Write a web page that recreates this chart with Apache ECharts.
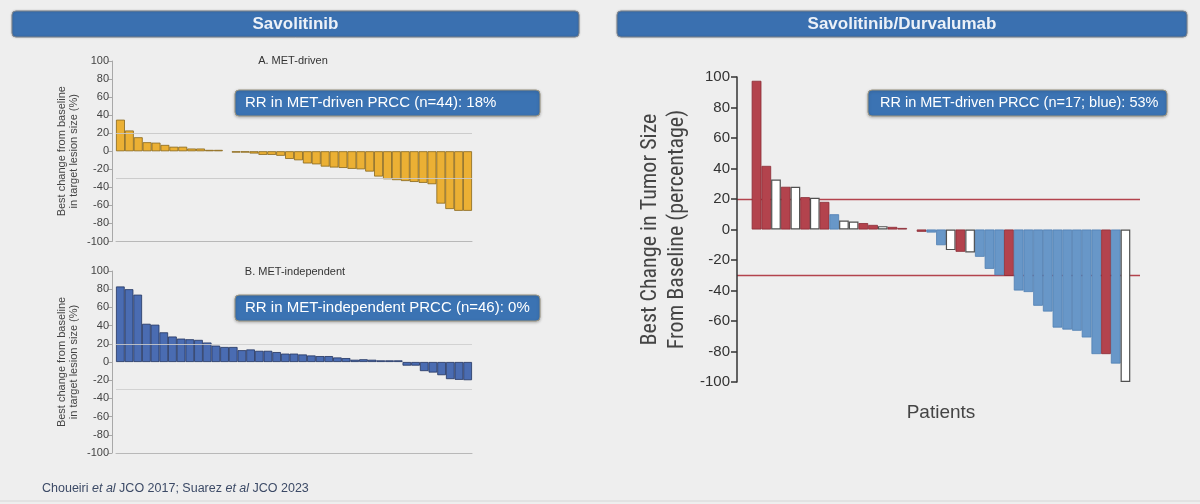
<!DOCTYPE html>
<html><head><meta charset="utf-8">
<script src="https://cdn.jsdelivr.net/npm/echarts@6/dist/echarts.min.js"></script>
<style>html,body{margin:0;padding:0;background:#eeeeee;}#c{width:1200px;height:504px;}</style>
</head><body><div id="c"></div>
<script>
// Panel A: Savolitinib, MET-driven (best % change per patient)
const valuesA = [35, 23, 15.5, 10, 9.5, 7, 5, 5, 3, 3, 1.5, 1.5, null, -1.5, -1.5, -2.5, -4, -4, -5, -8.5,
  -10, -13.5, -14.5, -17, -18, -18.5, -19.5, -20, -22.5, -28, -31, -32, -33, -34, -35, -36.5, -58, -64, -66, -66];
// Panel B: Savolitinib, MET-independent
const valuesB = [83, 80, 74, 42, 41, 32.6, 28, 25.7, 25, 24.3, 21.4, 18, 16.5, 16.5, 13, 13.8, 12.3, 12.3, 10.9, 9.2,
  9.2, 8.3, 7.2, 6.5, 6.5, 5, 4.3, 2.5, 3, 2.5, 1.8, 1.8, 1.8, -4, -4, -10, -11.6, -14.5, -18.8, -19.6, -20];
// Panel C: Savolitinib/Durvalumab
const valuesC = [97.5, 41.7, 32.8, 28, 28, 21.2, 20.8, 18.1, 10, 5.9, 5.2, 4.2, 3, 2.2, 1.7, 1, null, -1.5, -2, -10.3,
  -13.5, -14.6, -15, -17.9, -25.8, -30, -30.4, -40, -41, -50, -53.8, -64.3, -65.6, -66.4, -70.8, -81.7, -81.7, -87.9, -100];
// Panel C bar groups: R = red, B = blue (MET-driven), W = white
const groupsC = ['R','R','W','R','W','R','W','R','B','W','W','R','R','W','R','R','-','R','B','B',
  'W','R','W','B','B','B','R','B','B','B','B','B','B','B','B','B','R','B','W'];
const refLinesAB = [20, -30];
const refLinesC = [20, -30];

const FONT = "'Liberation Sans', Arial, Helvetica, sans-serif";
const chart = echarts.init(document.getElementById('c'), null, {renderer: 'canvas'});

const cats = arr => arr.map((_, i) => 'P' + (i + 1));
const toData = arr => arr.map(v => (v === null ? '-' : v));

const styleC = {
  R: {color: '#B3434D', borderColor: '#8A2B35', borderWidth: 0.8},
  B: {color: '#6897C8', borderColor: '#4F7FB2', borderWidth: 0.8},
  W: {color: '#FFFFFF', borderColor: '#505050', borderWidth: 1.2}
};
const dataC = [{value: '-'}].concat(valuesC.map((v, i) => ({
  value: v === null ? '-' : v,
  itemStyle: styleC[groupsC[i]] || {}
}))).concat([{value: '-'}]);
const catsC = [''].concat(cats(valuesC)).concat(['']);

const smallY = (idx, nameTxt) => ({
  gridIndex: idx, type: 'value', min: -100, max: 100, interval: 20, offset: 4,
  axisLine: {show: true, lineStyle: {color: '#a8a8a8', width: 1}},
  axisTick: {show: true, length: 4, lineStyle: {color: '#a8a8a8'}},
  axisLabel: {fontSize: 11, color: '#444', fontFamily: FONT, margin: 3},
  splitLine: {show: false},
  name: nameTxt, nameLocation: 'middle', nameGap: 32, nameRotate: 90,
  nameTextStyle: {fontSize: 11, color: '#444', fontFamily: FONT, lineHeight: 12}
});
const smallX = (idx, data) => ({
  gridIndex: idx, type: 'category', data: data,
  axisLine: {show: true, onZero: false, lineStyle: {color: '#b8b8b8'}},
  axisTick: {show: false}, axisLabel: {show: false}
});
const refMark = (vals, color) => ({
  silent: true, symbol: 'none', animation: false,
  label: {show: false},
  lineStyle: {color: color, width: 1, type: 'solid', opacity: 1},
  emphasis: {disabled: true},
  data: vals.map(v => ({yAxis: v, lineStyle: {color: color, width: 1, type: 'solid'}}))
});

const header = (x, w, txt) => ([
  {type: 'rect', shape: {x: x, y: 11, width: w, height: 26, r: 4},
   style: {fill: '#3A70B0', stroke: '#7d8590', lineWidth: 1, shadowBlur: 2, shadowColor: 'rgba(0,0,0,0.25)'}},
  {type: 'text', x: x + w / 2, y: 24,
   style: {text: txt, fill: '#ECF1F8', font: 'bold 17px ' + FONT, align: 'center', verticalAlign: 'middle',
     textAlign: 'center', textVerticalAlign: 'middle'}}
]);
const rrBox = (x, y, w, txt, fs, pad) => ([
  {type: 'rect', z: 10, shape: {x: x, y: y, width: w, height: 26, r: 4},
   style: {fill: '#3B73B3', stroke: '#9a9480', lineWidth: 1, shadowBlur: 3, shadowColor: 'rgba(0,0,0,0.25)', shadowOffsetY: 1}},
  {type: 'text', z: 11, x: x + pad, y: y + 13,
   style: {text: txt, fill: '#FFFFFF', font: fs + 'px ' + FONT, align: 'left', verticalAlign: 'middle',
     textAlign: 'left', textVerticalAlign: 'middle'}}
]);
const label = (x, y, txt) => ({type: 'text', x: x, y: y,
  style: {text: txt, fill: '#333', font: '11px ' + FONT, align: 'center', verticalAlign: 'middle',
    textAlign: 'center', textVerticalAlign: 'middle'}});

const baseGraphic = [].concat(
  header(12, 567, 'Savolitinib'),
  header(617, 570, 'Savolitinib/Durvalumab'),
  rrBox(235, 90, 305, 'RR in MET-driven PRCC (n=44): 18%', 15, 10),
  rrBox(235, 295, 305, 'RR in MET-independent PRCC (n=46): 0%', 15, 10),
  rrBox(868, 90, 299, 'RR in MET-driven PRCC (n=17; blue): 53%', 14.5, 12),
  [label(293, 61, 'A. MET-driven'), label(295, 272, 'B. MET-independent'),
   {type: 'text', x: 42, y: 489,
    style: {text: '{n|Choueiri }{i|et al}{n| JCO 2017; Suarez }{i|et al}{n| JCO 2023}',
      verticalAlign: 'middle', textVerticalAlign: 'middle',
      rich: {n: {fontSize: 12.5, fontFamily: FONT, fill: '#3C4A66', color: '#3C4A66'},
             i: {fontSize: 12.5, fontFamily: FONT, fontStyle: 'italic', fill: '#3C4A66', color: '#3C4A66'}}}},
   {type: 'line', shape: {x1: 0, y1: 501, x2: 1200, y2: 501}, style: {stroke: '#d6d6d6', lineWidth: 1}}]
);

const option = {
  backgroundColor: '#EEEEEE',
  animation: false,
  grid: [
    {left: 116, top: 61, width: 356, height: 180.5},
    {left: 116, top: 271, width: 356, height: 182},
    {left: 742, top: 77, width: 398, height: 305}
  ],
  xAxis: [
    smallX(0, cats(valuesA)),
    smallX(1, cats(valuesB)),
    {gridIndex: 2, type: 'category', data: catsC,
     axisLine: {show: false}, axisTick: {show: false}, axisLabel: {show: false},
     name: 'Patients', nameLocation: 'middle', nameGap: 21,
     nameTextStyle: {fontSize: 19, color: '#444', fontFamily: FONT}}
  ],
  yAxis: [
    smallY(0, 'Best change from baseline\nin target lesion size (%)'),
    smallY(1, 'Best change from baseline\nin target lesion size (%)'),
    {gridIndex: 2, type: 'value', min: -100, max: 100, interval: 20, offset: 5,
     axisLine: {show: true, lineStyle: {color: '#333', width: 1.5}},
     axisTick: {show: true, length: 6, lineStyle: {color: '#333', width: 1.5}},
     axisLabel: {fontSize: 15, color: '#333', fontFamily: FONT, margin: 7},
     splitLine: {show: false},
     name: 'Best Change in Tumor Size\nFrom Baseline (percentage)', nameLocation: 'middle', nameGap: 46, nameRotate: 90,
     nameTextStyle: {fontSize: 22, color: '#444', fontFamily: "'Liberation Sans Narrow', 'Roboto Condensed', " + FONT, lineHeight: 27}}
  ],
  series: [
    {type: 'bar', xAxisIndex: 0, yAxisIndex: 0, data: toData(valuesA), barCategoryGap: '0%',
     itemStyle: {color: '#EBB034', borderColor: '#86661A', borderWidth: 0.8},
     markLine: refMark(refLinesAB, 'rgba(200,200,200,0.9)')},
    {type: 'bar', xAxisIndex: 1, yAxisIndex: 1, data: toData(valuesB), barCategoryGap: '0%',
     itemStyle: {color: '#4A6CB2', borderColor: '#22345F', borderWidth: 0.8},
     markLine: refMark(refLinesAB, 'rgba(205,205,205,0.85)')},
    {type: 'bar', xAxisIndex: 2, yAxisIndex: 2, data: dataC, barCategoryGap: '0%', z: 3}
  ],
  graphic: baseGraphic
};
chart.setOption(option);

// Red reference lines of panel C, positioned through the library's y scale, drawn behind the bars
const refGraphic = refLinesC.map(v => {
  const y = Math.round(chart.convertToPixel({yAxisIndex: 2}, v)) + 0.5;
  return {type: 'line', z: 0, silent: true, shape: {x1: 737, y1: y, x2: 1140, y2: y},
          style: {stroke: '#B3434D', lineWidth: 1.5}};
});
chart.setOption({graphic: baseGraphic.concat(refGraphic)});
</script>
</body></html>
